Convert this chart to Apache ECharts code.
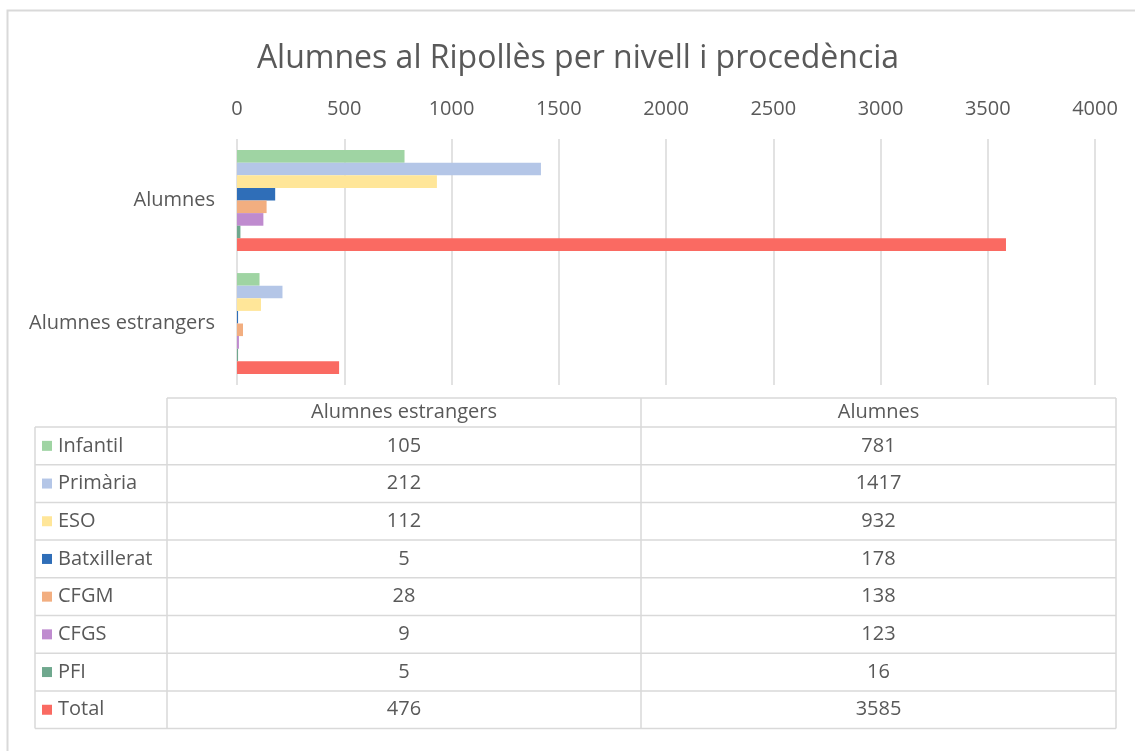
<!DOCTYPE html>
<html>
<head>
<meta charset="utf-8">
<script src="https://cdn.jsdelivr.net/npm/echarts@6/dist/echarts.min.js"></script>
<style>
  html, body { margin: 0; padding: 0; background: #fff; }
  #chart { width: 1135px; height: 751px; }
</style>
</head>
<body>
<div id="chart"></div>
<script>
// categories (table column order, Excel bottom-to-top on the chart)
const categories = ['Alumnes estrangers', 'Alumnes'];
const levels = ['Infantil', 'Primària', 'ESO', 'Batxillerat', 'CFGM', 'CFGS', 'PFI', 'Total'];
const foreignVals = [105, 212, 112, 5, 28, 9, 5, 476];
const allVals = [781, 1417, 932, 178, 138, 123, 16, 3585];
const xTicks = [0, 500, 1000, 1500, 2000, 2500, 3000, 3500, 4000];
const colors = ['#9fd4a3', '#b4c6e7', '#ffe699', '#2f6eb8', '#f2ae80', '#bf8bcf', '#6fa88e', '#fa6a62'];

const FONT = 'Open Sans';
const TXT = '#595959';
const LINE = '#d9d9d9';
const FS = 20;

let chart = echarts.init(document.getElementById('chart'), null, {renderer: 'canvas'});

// data table under the plot
let buildTable = () => {
    const left = 35, c0 = 167, c1 = 641, right = 1116;
    const top = 398, headH = 29, rowH = 37.7;
    const bottom = top + headH + rowH * levels.length;
    let els = [];
    let line = (x1, y1, x2, y2) => els.push({
        type: 'line', shape: {x1, y1, x2, y2},
        style: {stroke: LINE, lineWidth: 1.5}, silent: true
    });
    // header
    line(c0, top, right, top);
    line(c0, top, c0, bottom);
    line(c1, top, c1, bottom);
    line(right, top, right, bottom);
    line(left, top + headH, left, bottom);
    for (let i = 0; i <= levels.length; i++) {
        let y = top + headH + rowH * i;
        line(left, y, right, y);
    }
    let text = (x, y, t, align) => els.push({
        type: 'text', x, y, silent: true,
        style: {text: t, fill: TXT, font: `${FS}px ${FONT}`, align, verticalAlign: 'middle'}
    });
    text((c0 + c1) / 2, top + headH / 2, categories[0], 'center');
    text((c1 + right) / 2, top + headH / 2, categories[1], 'center');
    levels.forEach((name, i) => {
        let cy = top + headH + rowH * i + rowH / 2;
        els.push({
            type: 'rect', shape: {x: 42, y: cy - 5, width: 10, height: 10},
            style: {fill: colors[i]}, silent: true
        });
        text(58, cy, name, 'left');
        text((c0 + c1) / 2, cy, String(foreignVals[i]), 'center');
        text((c1 + right) / 2, cy, String(allVals[i]), 'center');
    });
    // outer chart frame
    els.push({
        type: 'rect', shape: {x: 7.5, y: 10.5, width: 1140, height: 760},
        style: {fill: 'none', stroke: LINE, lineWidth: 2}, silent: true, z: -1
    });
    return els;
};

let option = {
    backgroundColor: '#fff',
    animation: false,
    title: {
        text: 'Alumnes al Ripollès per nivell i procedència',
        left: 573, top: 38, textAlign: 'center',
        textStyle: {fontFamily: FONT, fontSize: 32, fontWeight: 'normal', color: TXT}
    },
    grid: {left: 237, right: 40, top: 139, height: 246},
    xAxis: {
        type: 'value', position: 'top',
        min: xTicks[0], max: xTicks[xTicks.length - 1], interval: 500,
        axisLine: {show: false}, axisTick: {show: false},
        axisLabel: {color: TXT, fontFamily: FONT, fontSize: FS, margin: 20, formatter: v => String(v)},
        splitLine: {lineStyle: {color: LINE, width: 1.5}}
    },
    yAxis: {
        type: 'category', data: categories,
        axisLine: {show: false}, axisTick: {show: false},
        axisLabel: {color: TXT, fontFamily: FONT, fontSize: FS, margin: 22}
    },
    series: levels.map((name, i) => ({
        name, type: 'bar',
        data: [foreignVals[i], allVals[i]],
        itemStyle: {color: colors[i]},
        barGap: '0%', barCategoryGap: '18%'
    })),
    graphic: buildTable()
};
chart.setOption(option);
</script>
</body>
</html>
